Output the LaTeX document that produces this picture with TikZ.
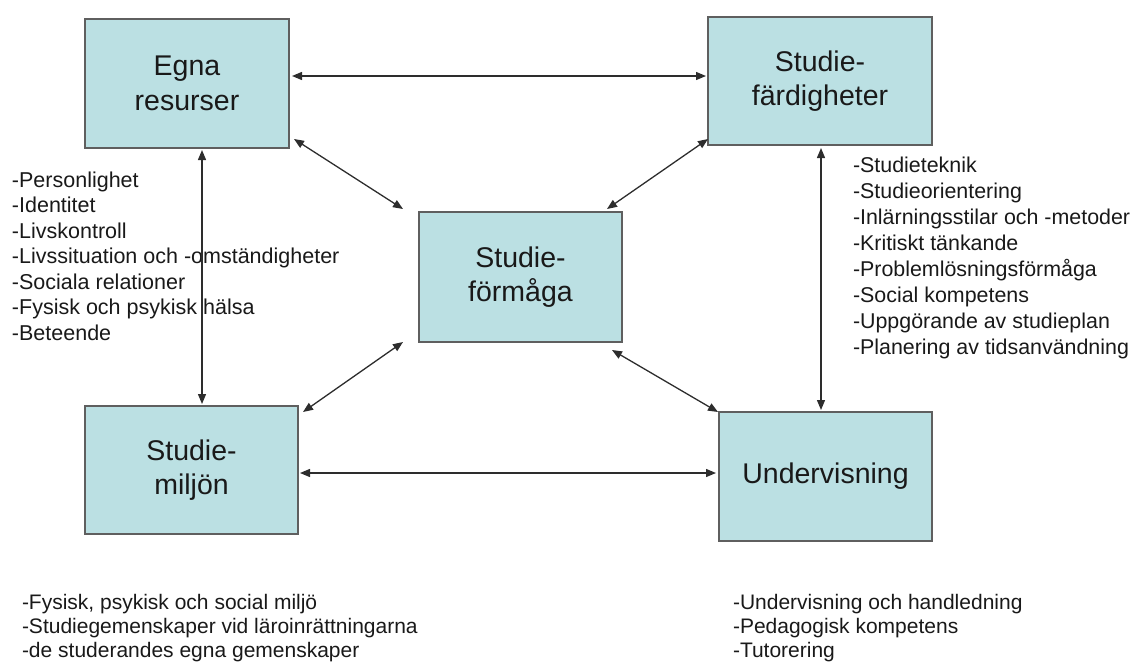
\documentclass[tikz,border=0pt]{standalone}
\usepackage{fontspec}
\setmainfont{Liberation Sans}
\usetikzlibrary{arrows.meta}
\definecolor{boxfill}{RGB}{187,224,227}
\definecolor{boxline}{RGB}{95,95,95}
\definecolor{arrowcol}{RGB}{45,45,45}
\definecolor{txt}{RGB}{25,25,25}
\begin{document}
\begin{tikzpicture}[x=1pt,y=-1pt,
  box/.style={draw=boxline, line width=1.5pt, fill=boxfill, inner sep=0pt, outer sep=0pt,
              align=center, text=txt, font=\fontsize{28.5}{34.5}\selectfont},
  list/.style={inner sep=0pt, outer sep=0pt, align=left, anchor=north west, text=txt,
               font=\fontsize{21.5}{25.5}\selectfont},
  blist/.style={list, font=\fontsize{21}{24}\selectfont},
  link/.style={arrowcol, line width=1.3pt,
               {Triangle[length=10pt,width=8pt]}-{Triangle[length=10pt,width=8pt]}}]
\useasboundingbox (0,0) rectangle (1132,664);
% boxes
\node[box, minimum width=204, minimum height=129] (egna)  at (187,83.5)  {Egna\\resurser};
\node[box, minimum width=224, minimum height=128] (fard)  at (820,81)    {Studie-\\färdigheter};
\node[box, minimum width=203, minimum height=130] (form)  at (520.5,277) {Studie-\\förmåga};
\node[box, minimum width=213, minimum height=128] (miljo) at (191.5,470) {Studie-\\miljön};
\node[box, minimum width=213, minimum height=129] (under) at (825.5,476.5) {Undervisning};
% lists
\node[list] (l1) at (12,171.5) {-Personlighet\\-Identitet\\-Livskontroll\\-Livssituation och -omständigheter\\-Sociala relationer\\-Fysisk och psykisk hälsa\\-Beteende};
\node[list, font=\fontsize{21.4}{26.1}\selectfont] (l2) at (853,156.5) {-Studieteknik\\-Studieorientering\\-Inlärningsstilar och -metoder\\-Kritiskt tänkande\\-Problemlösningsförmåga\\-Social kompetens\\-Uppgörande av studieplan\\-Planering av tidsanvändning};
\node[blist] (l3) at (22,594) {-Fysisk, psykisk och social miljö\\-Studiegemenskaper vid läroinrättningarna\\-de studerandes egna gemenskaper};
\node[blist] (l4) at (733,594) {-Undervisning och handledning\\-Pedagogisk kompetens\\-Tutorering};
% connectors
\draw[link] ([shift={(3,-7.5)}]egna.east) -- ([shift={(-2,-5)}]fard.west);
\draw[link] ([shift={(2,3)}]miljo.east) -- ([shift={(-3,-3.5)}]under.west);
\draw[link] ([shift={(15,2)}]egna.south) -- ([shift={(10.5,-2)}]miljo.north);
\draw[link] ([shift={(1,3)}]fard.south) -- ([shift={(-4.5,-2)}]under.north);
\draw[link] ([shift={(5,-9)}]egna.south east) -- ([shift={(-16,-3)}]form.north west);
\draw[link] ([shift={(0,-6)}]fard.south west) -- ([shift={(-15,-3)}]form.north east);
\draw[link] ([shift={(-16,0)}]form.south west) -- ([shift={(5,6)}]miljo.north east);
\draw[link] ([shift={(-10,8)}]form.south east) -- ([shift={(-1,0)}]under.north west);
\end{tikzpicture}
\end{document}
